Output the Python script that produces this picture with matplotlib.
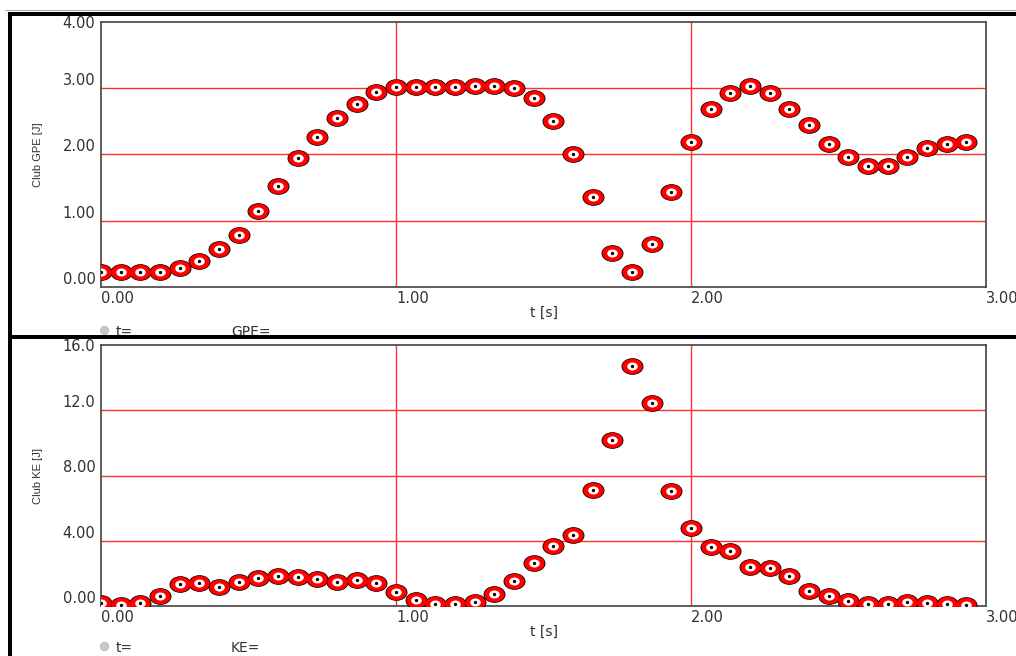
import numpy as np
import matplotlib
matplotlib.use("Agg")
import matplotlib.pyplot as plt
from matplotlib.path import Path
from matplotlib.markers import MarkerStyle
from matplotlib.lines import Line2D

# ---- data ----
t_s = [0.000, 0.067, 0.133, 0.200, 0.267, 0.333, 0.400, 0.467, 0.533, 0.600,
       0.667, 0.733, 0.800, 0.867, 0.933, 1.000, 1.067, 1.133, 1.200, 1.267,
       1.333, 1.400, 1.467, 1.533, 1.600, 1.667, 1.733, 1.800, 1.867, 1.933,
       2.000, 2.067, 2.133, 2.200, 2.267, 2.333, 2.400, 2.467, 2.533, 2.600,
       2.667, 2.733, 2.800, 2.867, 2.933]
gpe_j = [0.22, 0.22, 0.22, 0.22, 0.28, 0.39, 0.57, 0.79, 1.14, 1.52,
         1.94, 2.26, 2.55, 2.75, 2.94, 3.01, 3.01, 3.01, 3.01, 3.03,
         3.03, 3.00, 2.85, 2.50, 2.00, 1.35, 0.51, 0.22, 0.65, 1.43,
         2.18, 2.68, 2.93, 3.03, 2.93, 2.68, 2.44, 2.16, 1.96, 1.83,
         1.82, 1.96, 2.09, 2.16, 2.18]
ke_j = [0.20, 0.06, 0.20, 0.63, 1.33, 1.43, 1.18, 1.45, 1.70, 1.85,
        1.76, 1.64, 1.49, 1.59, 1.39, 0.88, 0.39, 0.12, 0.12, 0.26,
        0.72, 1.53, 2.66, 3.68, 4.35, 7.11, 10.18, 14.71, 12.47, 7.05,
        4.76, 3.64, 3.35, 2.37, 2.35, 1.84, 0.92, 0.63, 0.31, 0.10,
        0.10, 0.26, 0.20, 0.10, 0.06]

x_ticks = [0.0, 1.0, 2.0, 3.0]
x_ticklabels = ["0.00", "1.00", "2.00", "3.00"]
gpe_ticks = [0.0, 1.0, 2.0, 3.0, 4.0]
gpe_ticklabels = ["0.00", "1.00", "2.00", "3.00", "4.00"]
ke_ticks = [0.0, 4.0, 8.0, 12.0, 16.0]
ke_ticklabels = ["0.00", "4.00", "8.00", "12.0", "16.0"]

W, H = 1016, 656
fig = plt.figure(figsize=(W / 100, H / 100), dpi=100)
fig.patch.set_facecolor("white")

def fx(px):
    return px / W

def fy(py):
    return 1 - py / H

ax1 = fig.add_axes([fx(101), fy(287), fx(986) - fx(101), fy(21.5) - fy(287)])
ax2 = fig.add_axes([fx(101), fy(606), fx(986) - fx(101), fy(345) - fy(606)])

# elliptical marker path
circ = Path.unit_circle()
ell = Path(circ.vertices * np.array([1.0, 0.76]), circ.codes)
ell_m = MarkerStyle(ell)

grid_col = "#ff3030"
spine_col = "#505050"
text_col = "#303030"
tick_font = dict(family="DejaVu Sans", size=10.5, color=text_col)

def style(ax, yticks, ylabels, ymax, ylabel):
    ax.set_xlim(0, 3)
    ax.set_ylim(0, ymax)
    ax.set_xticks(x_ticks)
    ax.set_xticklabels(x_ticklabels, ha="left", **tick_font)
    ax.set_yticks(yticks)
    ax.set_yticklabels(ylabels, **tick_font)
    ax.tick_params(axis="both", length=0)
    ax.tick_params(axis="x", pad=3)
    ax.tick_params(axis="y", pad=4)
    for sp in ax.spines.values():
        sp.set_color(spine_col)
        sp.set_linewidth(1.3)
    for v in x_ticks[1:-1]:
        ax.axvline(v, color=grid_col, lw=1.0, zorder=1)
    for v in yticks[1:-1]:
        ax.axhline(v, color=grid_col, lw=1.0, zorder=1)
    ax.set_xlabel("t [s]", fontsize=10, color=text_col, labelpad=0,
                  family="DejaVu Sans")
    ax.set_ylabel(ylabel, fontsize=8, color=text_col,
                  family=["Liberation Sans Narrow", "Liberation Sans"])
    ax.yaxis.set_label_coords(-0.066, 0.5)
    labs = ax.get_yticklabels()
    for lb in labs[:-1]:
        lb.set_va("bottom")

def draw_points(ax, x, y):
    ax.plot(x, y, ls="none", marker=ell_m, ms=15.8, mfc="black", mew=0, zorder=3)
    ax.plot(x, y, ls="none", marker=ell_m, ms=14.6, mfc="#ff0000", mew=0, zorder=4)
    ax.plot(x, y, ls="none", marker=ell_m, ms=7.6, mfc="white", mew=0, zorder=5)
    ax.plot(x, y, ls="none", marker="o", ms=2.4, mfc="black", mew=0, zorder=6)

style(ax1, gpe_ticks, gpe_ticklabels, 4, "Club GPE [J]")
style(ax2, ke_ticks, ke_ticklabels, 16, "Club KE [J]")
draw_points(ax1, t_s, gpe_j)
draw_points(ax2, t_s, ke_j)

# status texts
for (yt, name) in [(325, "GPE="), (641, "KE=")]:
    fig.add_artist(Line2D([fx(104)], [fy(yt + 5)], marker="o", ms=6,
                          mfc="#c8c8c8", mec="#b0b0b0", mew=0.5, ls="none"))
    fig.text(fx(116), fy(yt), "t=", ha="left", va="top", fontsize=10,
             color=text_col, family="DejaVu Sans")
    fig.text(fx(231), fy(yt), name, ha="left", va="top", fontsize=10,
             color=text_col, family="DejaVu Sans")

# window frame lines
frame_lw = 4 * 0.72
fig.add_artist(Line2D([fx(5), fx(W)], [fy(9.5), fy(9.5)], color="#b0b0b0",
                      lw=0.8, zorder=20))
fig.add_artist(Line2D([fx(8), fx(W)], [fy(14), fy(14)], color="black",
                      lw=frame_lw, zorder=20, solid_capstyle="butt"))
fig.add_artist(Line2D([fx(10), fx(10)], [fy(12), fy(H)], color="black",
                      lw=frame_lw, zorder=20, solid_capstyle="butt"))
fig.add_artist(Line2D([fx(8), fx(W)], [fy(337), fy(337)], color="black",
                      lw=frame_lw, zorder=20, solid_capstyle="butt"))

fig.savefig("out.png", dpi=100, facecolor="white")
